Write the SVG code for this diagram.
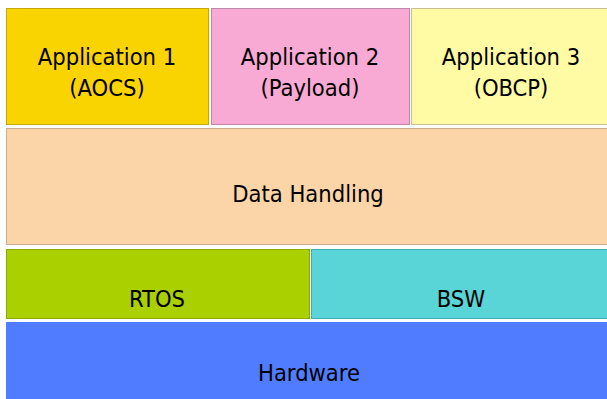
<svg xmlns="http://www.w3.org/2000/svg" width="607" height="399" viewBox="0 0 607 399">
<style>
  .lbl { font-family: "DejaVu Sans Condensed", "DejaVu Sans", sans-serif; font-stretch: condensed; font-size: 23.5px; fill: #000; text-anchor: middle; }
  .box { stroke-width: 1; }
</style>
<rect x="0" y="0" width="607" height="399" fill="#ffffff"/>
<g id="app1">
  <rect class="box" x="6.5" y="8.5" width="202" height="116" fill="#FAD400" stroke="#C8A800"/>
  <text class="lbl" x="107" y="65">Application 1</text>
  <text class="lbl" x="107" y="96">(AOCS)</text>
</g>
<g id="app2">
  <rect class="box" x="211.5" y="8.5" width="198" height="116" fill="#F9AAD4" stroke="#C088A8"/>
  <text class="lbl" x="310" y="65">Application 2</text>
  <text class="lbl" x="310" y="96">(Payload)</text>
</g>
<g id="app3">
  <rect class="box" x="411.5" y="8.5" width="200" height="116" fill="#FFFBA4" stroke="#C8C090"/>
  <text class="lbl" x="511" y="65">Application 3</text>
  <text class="lbl" x="511" y="96">(OBCP)</text>
</g>
<g id="datahandling">
  <rect class="box" x="6.5" y="128.5" width="605" height="116" fill="#FBD5A8" stroke="#C8AC8C"/>
  <text class="lbl" x="308" y="202">Data Handling</text>
</g>
<g id="rtos">
  <rect class="box" x="6.5" y="249.5" width="303" height="69" fill="#AAD000" stroke="#8CA800"/>
  <text class="lbl" x="157" y="307">RTOS</text>
</g>
<g id="bsw">
  <rect class="box" x="311.5" y="249.5" width="300" height="69" fill="#59D4D7" stroke="#40AEB0"/>
  <text class="lbl" x="461" y="307">BSW</text>
</g>
<g id="hardware">
  <rect class="box" x="6" y="322" width="606" height="80" fill="#507DFF"/>
  <text class="lbl" x="309" y="381">Hardware</text>
</g>
<g id="connectors"></g>
</svg>
